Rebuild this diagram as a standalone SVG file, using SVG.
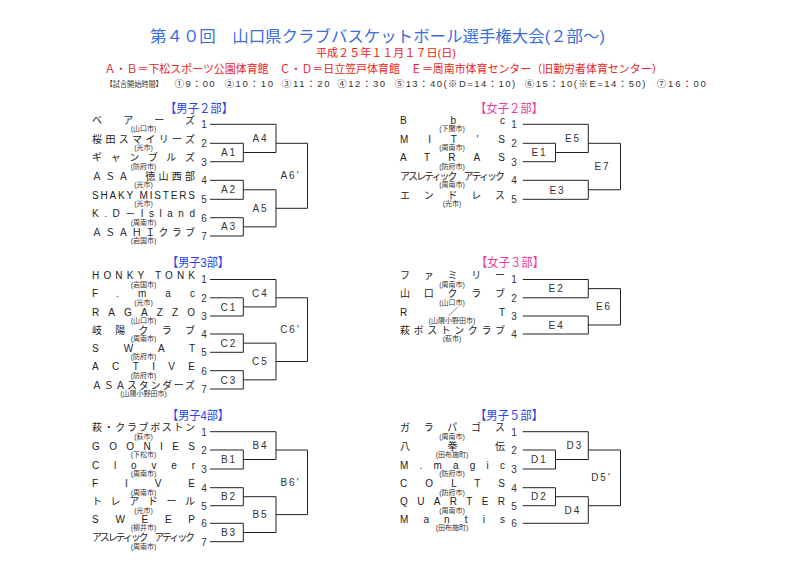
<svg xmlns="http://www.w3.org/2000/svg" width="800" height="566" viewBox="0 0 800 566">
<style>
text{font-family:"Liberation Sans","Noto Sans CJK JP",sans-serif;}
.hd{font-size:16px;fill:#3b6de0;}
.red{font-size:11px;fill:#e8241c;}
.tm{font-size:9.5px;fill:#333;}
.sm{font-size:12.5px;fill:#2a44e6;}
.sw{font-size:12.5px;fill:#ee3a9c;}
.nm{font-size:10px;fill:#222;}
.ct{font-size:7px;fill:#333;text-anchor:middle;}
.nu{font-size:10px;fill:#333;text-anchor:middle;}
.lb{font-size:10px;fill:#333;text-anchor:middle;letter-spacing:2px;}
.ln{fill:none;stroke:#222;stroke-width:1;}
</style>
<rect width="800" height="566" fill="#fff"/>
<g id="header">
<text class="hd" x="150" y="41.5" textLength="455" lengthAdjust="spacingAndGlyphs">第４０回　山口県クラブバスケットボール選手権大会(２部〜)</text>
<text class="red" x="316" y="56.5" textLength="140" lengthAdjust="spacingAndGlyphs">平成２５年１１月１７日(日)</text>
<text class="red" x="104.6" y="72.5" textLength="558" lengthAdjust="spacingAndGlyphs">Ａ・Ｂ＝下松スポーツ公園体育館　Ｃ・Ｄ＝日立笠戸体育館　Ｅ＝周南市体育センター（旧勤労者体育センター）</text>
<text class="tm" x="105.7" y="87" style="font-size:7.5px" textLength="57" lengthAdjust="spacingAndGlyphs">【試合開始時間】</text>
<text class="tm" x="174.6" y="87" textLength="40" lengthAdjust="spacing">①9：00</text>
<text class="tm" x="224.4" y="87" textLength="48.6" lengthAdjust="spacing">②10：10</text>
<text class="tm" x="281.8" y="87" textLength="47.8" lengthAdjust="spacing">③11：20</text>
<text class="tm" x="337.3" y="87" textLength="47.7" lengthAdjust="spacing">④12：30</text>
<text class="tm" x="394.7" y="87" textLength="120.5" lengthAdjust="spacing">⑤13：40(※D=14：10)</text>
<text class="tm" x="524.8" y="87" textLength="120.6" lengthAdjust="spacing">⑥15：10(※E=14：50)</text>
<text class="tm" x="656.8" y="87" textLength="49" lengthAdjust="spacing">⑦16：00</text>
</g>

<g id="connectors">
<path class="ln" d="M210 124.3H276V152.5M210 143.3H243.3V161.7H210M243.3 152.5H276M276 143.3H307.5M210 180.3H243.3V199.3H210M243.3 189.8H276M210 217.7H243.3V236H210M243.3 226.85H276M276 189.8V226.85M276 208.3H307.5M307.5 143.3V208.3"/>
<path class="ln" d="M210 279.5H276V306.9M210 297.8H243.3V316H210M243.3 306.9H276M276 297.8H307.5M210 334H243.3V352.3H210M243.3 343.15H276M210 370.7H243.3V389H210M243.3 379.85H276M276 343.15V379.85M276 361.5H307.5M307.5 297.8V361.5"/>
<path class="ln" d="M210 431.7H276V459.5M210 450H243.3V469H210M243.3 459.5H276M276 450H307.5M210 487.7H243.3V505.7H210M243.3 496.7H276M210 523.3H243.3V541.7H210M243.3 532.5H276M276 496.7V532.5M276 514.6H307.5M307.5 450V514.6"/>
<path class="ln" d="M522.7 124.3H588.3V152.5M522.7 143.3H555.5V161.7H522.7M555.5 152.5H588.3M588.3 143.3H620.5M522.7 180.3H588.3V199.3H522.7M588.3 189.8H620.5M620.5 143.3V189.8"/>
<path class="ln" d="M522.7 279.5H588.3V297.8H522.7M588.3 288.65H620.5M522.7 316H588.3V334H522.7M588.3 325H620.5M620.5 288.65V325"/>
<path class="ln" d="M522.7 431.7H588.3V459.5M522.7 450H555.5V469H522.7M555.5 459.5H588.3M588.3 450H620.5M522.7 487.7H555.5V505.7H522.7M555.5 496.7H588.3V523.3H522.7M588.3 505.7H620.5M620.5 450V505.7"/>
</g>

<g id="men2">
<text class="sm" x="165" y="112.5" textLength="68" lengthAdjust="spacingAndGlyphs">【男子２部】</text>
<text class="nm" x="92" y="123.8" textLength="103" lengthAdjust="spacing">ベアーズ</text><text class="ct" x="143.5" y="131.3">(山口市)</text><text class="nu" x="204" y="128.1">1</text>
<text class="nm" x="92" y="142.8" textLength="103" lengthAdjust="spacing">桜田スマイリーズ</text><text class="ct" x="143.5" y="150.3">(光市)</text><text class="nu" x="204" y="147.1">2</text>
<text class="nm" x="92" y="161.2" textLength="103" lengthAdjust="spacing">ギャンブルズ</text><text class="ct" x="143.5" y="168.7">(防府市)</text><text class="nu" x="204" y="165.5">3</text>
<text class="nm" x="92" y="179.8" textLength="103" lengthAdjust="spacing">ＡＳＡ　徳山西部</text><text class="ct" x="143.5" y="187.3">(光市)</text><text class="nu" x="204" y="184.1">4</text>
<text class="nm" x="92" y="198.8" textLength="103" lengthAdjust="spacing">SHAKY MISTERS</text><text class="ct" x="143.5" y="206.3">(光市)</text><text class="nu" x="204" y="203.1">5</text>
<text class="nm" x="92" y="217.2" textLength="103" lengthAdjust="spacing">K.D－Island</text><text class="ct" x="143.5" y="224.7">(周南市)</text><text class="nu" x="204" y="221.5">6</text>
<text class="nm" x="92" y="235.5" textLength="103" lengthAdjust="spacing">ＡＳＡＨＩクラブ</text><text class="ct" x="143.5" y="243">(岩国市)</text><text class="nu" x="204" y="239.8">7</text>
<text class="lb" x="229" y="156.1">A1</text><text class="lb" x="229" y="193.4">A2</text><text class="lb" x="229" y="230.4">A3</text>
<text class="lb" x="260.5" y="141.9">A4</text><text class="lb" x="260.5" y="211.9">A5</text><text class="lb" x="290.5" y="179.3">A6'</text>
</g>

<g id="men3">
<text class="sm" x="167" y="266.5" textLength="62" lengthAdjust="spacingAndGlyphs">【男子3部】</text>
<text class="nm" x="92" y="279" textLength="103" lengthAdjust="spacing">HONKY TONK</text><text class="ct" x="143.5" y="286.5">(岩国市)</text><text class="nu" x="204" y="283.3">1</text>
<text class="nm" x="92" y="297.3" textLength="103" lengthAdjust="spacing">F.mac</text><text class="ct" x="143.5" y="304.8">(光市)</text><text class="nu" x="204" y="301.6">2</text>
<text class="nm" x="92" y="315.5" textLength="103" lengthAdjust="spacing">RAGAZZO</text><text class="ct" x="143.5" y="323">(山口市)</text><text class="nu" x="204" y="319.8">3</text>
<text class="nm" x="92" y="333.5" textLength="103" lengthAdjust="spacing">岐陽クラブ</text><text class="ct" x="143.5" y="341">(周南市)</text><text class="nu" x="204" y="337.8">4</text>
<text class="nm" x="92" y="351.8" textLength="103" lengthAdjust="spacing">SWAT</text><text class="ct" x="143.5" y="359.3">(防府市)</text><text class="nu" x="204" y="356.1">5</text>
<text class="nm" x="92" y="370.2" textLength="103" lengthAdjust="spacing">ACTIVE</text><text class="ct" x="143.5" y="377.7">(防府市)</text><text class="nu" x="204" y="374.5">6</text>
<text class="nm" x="92" y="388.5" textLength="103" lengthAdjust="spacing">ＡＳＡスタンダーズ</text><text class="ct" x="143.5" y="396">(山陽小野田市)</text><text class="nu" x="204" y="392.8">7</text>
<text class="lb" x="229" y="310.5">C1</text><text class="lb" x="229" y="346.8">C2</text><text class="lb" x="229" y="383.5">C3</text>
<text class="lb" x="260.5" y="296.8">C4</text><text class="lb" x="260.5" y="365.1">C5</text><text class="lb" x="290.5" y="333.3">C6'</text>
</g>

<g id="men4">
<text class="sm" x="167" y="419.5" textLength="62" lengthAdjust="spacingAndGlyphs">【男子4部】</text>
<text class="nm" x="92" y="431.2" textLength="103" lengthAdjust="spacing">萩・クラブボストン</text><text class="ct" x="143.5" y="438.7">(萩市)</text><text class="nu" x="204" y="435.5">1</text>
<text class="nm" x="92" y="449.5" textLength="103" lengthAdjust="spacing">GOONIES</text><text class="ct" x="143.5" y="457">(下松市)</text><text class="nu" x="204" y="453.8">2</text>
<text class="nm" x="92" y="468.5" textLength="103" lengthAdjust="spacing">Clover</text><text class="ct" x="143.5" y="476">(周南市)</text><text class="nu" x="204" y="472.8">3</text>
<text class="nm" x="92" y="487.2" textLength="103" lengthAdjust="spacing">FIVE</text><text class="ct" x="143.5" y="494.7">(周南市)</text><text class="nu" x="204" y="491.5">4</text>
<text class="nm" x="92" y="505.2" textLength="103" lengthAdjust="spacing">トレアドール</text><text class="ct" x="143.5" y="512.7">(光市)</text><text class="nu" x="204" y="509.5">5</text>
<text class="nm" x="92" y="522.8" textLength="103" lengthAdjust="spacing">SWEEP</text><text class="ct" x="143.5" y="530.3">(柳井市)</text><text class="nu" x="204" y="527.1">6</text>
<text class="nm" x="92" y="541.2" textLength="103" lengthAdjust="spacing">アスレティック　アティック</text><text class="ct" x="143.5" y="548.7">(周南市)</text><text class="nu" x="204" y="545.5">7</text>
<text class="lb" x="229" y="463.1">B1</text><text class="lb" x="229" y="500.3">B2</text><text class="lb" x="229" y="536.1">B3</text>
<text class="lb" x="260.5" y="449.2">B4</text><text class="lb" x="260.5" y="518.2">B5</text><text class="lb" x="290.5" y="485.9">B6'</text>
</g>

<g id="women2">
<text class="sw" x="475" y="112.5" textLength="68" lengthAdjust="spacingAndGlyphs">【女子２部】</text>
<text class="nm" x="400" y="123.8" textLength="105" lengthAdjust="spacing">Bbc</text><text class="ct" x="452" y="131.3">(下関市)</text><text class="nu" x="514" y="128.1">1</text>
<text class="nm" x="400" y="142.8" textLength="105" lengthAdjust="spacing">MIT'S</text><text class="ct" x="452" y="150.3">(周南市)</text><text class="nu" x="514" y="147.1">2</text>
<text class="nm" x="400" y="161.2" textLength="105" lengthAdjust="spacing">ATRAS</text><text class="ct" x="452" y="168.7">(防府市)</text><text class="nu" x="514" y="165.5">3</text>
<text class="nm" x="400" y="179.8" textLength="105" lengthAdjust="spacing">アスレティック　アティック</text><text class="ct" x="452" y="187.3">(周南市)</text><text class="nu" x="514" y="184.1">4</text>
<text class="nm" x="400" y="198.8" textLength="105" lengthAdjust="spacing">エンドレス</text><text class="ct" x="452" y="206.3">(光市)</text><text class="nu" x="514" y="203.1">5</text>
<text class="lb" x="539.5" y="156.1">E1</text><text class="lb" x="557.5" y="193.6">E3</text>
<text class="lb" x="573" y="142">E5</text><text class="lb" x="602.5" y="170.1">E7</text>
</g>

<g id="women3">
<text class="sw" x="476" y="266.5" textLength="68" lengthAdjust="spacingAndGlyphs">【女子３部】</text>
<text class="nm" x="400" y="279" textLength="105" lengthAdjust="spacing">ファミリー</text><text class="ct" x="452" y="286.5">(周南市)</text><text class="nu" x="514" y="283.3">1</text>
<text class="nm" x="400" y="297.3" textLength="105" lengthAdjust="spacing">山口クラブ</text><text class="ct" x="452" y="304.8">(山口市)</text><text class="nu" x="514" y="301.6">2</text>
<text class="nm" x="400" y="315.5" textLength="105" lengthAdjust="spacing">R／T</text><text class="ct" x="452" y="323">(山陽小野田市)</text><text class="nu" x="514" y="319.8">3</text>
<text class="nm" x="400" y="333.5" textLength="105" lengthAdjust="spacing">萩ボストンクラブ</text><text class="ct" x="452" y="341">(萩市)</text><text class="nu" x="514" y="337.8">4</text>
<text class="lb" x="556.7" y="292.2">E2</text><text class="lb" x="556.7" y="328.6">E4</text><text class="lb" x="604" y="310.4">E6</text>
</g>

<g id="men5">
<text class="sm" x="475" y="419.5" textLength="68" lengthAdjust="spacingAndGlyphs">【男子５部】</text>
<text class="nm" x="400" y="431.2" textLength="105" lengthAdjust="spacing">ガラパゴス</text><text class="ct" x="452" y="438.7">(周南市)</text><text class="nu" x="514" y="435.5">1</text>
<text class="nm" x="400" y="449.5" textLength="105" lengthAdjust="spacing">八拳伝</text><text class="ct" x="452" y="457">(田布施町)</text><text class="nu" x="514" y="453.8">2</text>
<text class="nm" x="400" y="468.5" textLength="105" lengthAdjust="spacing">M.magic</text><text class="ct" x="452" y="476">(防府市)</text><text class="nu" x="514" y="472.8">3</text>
<text class="nm" x="400" y="487.2" textLength="105" lengthAdjust="spacing">COLTS</text><text class="ct" x="452" y="494.7">(防府市)</text><text class="nu" x="514" y="491.5">4</text>
<text class="nm" x="400" y="505.2" textLength="105" lengthAdjust="spacing">QUARTER</text><text class="ct" x="452" y="512.7">(周南市)</text><text class="nu" x="514" y="509.5">5</text>
<text class="nm" x="400" y="522.8" textLength="105" lengthAdjust="spacing">Mantis</text><text class="ct" x="452" y="530.3">(田布施町)</text><text class="nu" x="514" y="527.1">6</text>
<text class="lb" x="539.5" y="463.1">D1</text><text class="lb" x="539.5" y="500.3">D2</text>
<text class="lb" x="575" y="449.2">D3</text><text class="lb" x="573" y="513.6">D4</text><text class="lb" x="601.5" y="481.4">D5'</text>
</g>
</svg>
